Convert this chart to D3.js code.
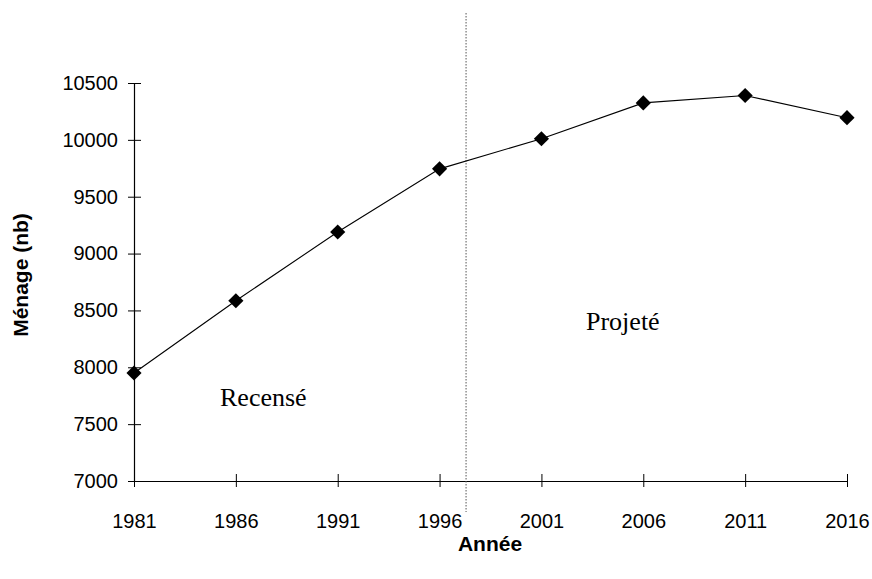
<!DOCTYPE html>
<html>
<head>
<meta charset="utf-8">
<script src="https://cdn.jsdelivr.net/npm/d3@7"></script>
<style>
  body { margin: 0; background: #fff; }
</style>
</head>
<body>
<script>
const width = 872;
const height = 579;

const years = [1981, 1986, 1991, 1996, 2001, 2006, 2011, 2016];
const menages = [7950, 8585, 9190, 9745, 10010, 10325, 10390, 10195];
const yTicks = [7000, 7500, 8000, 8500, 9000, 9500, 10000, 10500];
const splitYear = 1997.3;

const sans = "'Liberation Sans', Arial, sans-serif";
const serif = "'Liberation Serif', 'Times New Roman', serif";

const margin = { left: 134, right: 872 - 847, top: 83, bottom: 579 - 481 };

const svg = d3.select("body")
  .append("svg")
  .attr("width", width)
  .attr("height", height);

const x = d3.scaleLinear()
  .domain([1981, 2016])
  .range([margin.left, width - margin.right]);

const y = d3.scaleLinear()
  .domain([7000, 10500])
  .range([height - margin.bottom, margin.top]);

// axes, ticks crossing the line
const xAxis = svg.append("g")
  .attr("transform", `translate(0,${y(7000)})`)
  .call(d3.axisBottom(x).tickValues(years).tickFormat(d3.format("d")).tickSizeOuter(0));
xAxis.selectAll(".tick line").attr("y1", -7).attr("y2", 6);
xAxis.selectAll(".tick text").attr("y", 47).attr("dy", null);

const yAxis = svg.append("g")
  .attr("transform", `translate(${x(1981)},0)`)
  .call(d3.axisLeft(y).tickValues(yTicks).tickFormat(d3.format("d")).tickSizeOuter(0));
yAxis.selectAll(".tick line").attr("x1", -6).attr("x2", 7);
yAxis.selectAll(".tick text").attr("x", -16);

svg.selectAll("g").attr("font-family", sans).attr("font-size", 20);
svg.selectAll(".domain").attr("stroke", "#000").attr("stroke-width", 1.2);
svg.selectAll(".tick line").attr("stroke", "#000");
svg.selectAll(".tick text").attr("fill", "#000");

// split line between census and projection
svg.append("line")
  .attr("x1", x(splitYear))
  .attr("x2", x(splitYear))
  .attr("y1", 13)
  .attr("y2", 512)
  .attr("stroke", "#555")
  .attr("stroke-width", 1)
  .attr("stroke-dasharray", "1.5,1.5");

const line = d3.line()
  .x((d, i) => x(years[i]))
  .y(d => y(d));

svg.append("path")
  .datum(menages)
  .attr("fill", "none")
  .attr("stroke", "#000")
  .attr("stroke-width", 1.1)
  .attr("d", line);

svg.append("g")
  .selectAll("path")
  .data(menages)
  .enter()
  .append("path")
  .attr("d", d3.symbol(d3.symbolSquare, 115))
  .attr("transform", (d, i) => `translate(${x(years[i])},${y(d)}) rotate(45)`)
  .attr("fill", "#000");

// annotations
svg.append("text")
  .attr("x", 220)
  .attr("y", 406)
  .attr("font-family", serif)
  .attr("font-size", 26)
  .text("Recensé");

svg.append("text")
  .attr("x", 586)
  .attr("y", 330)
  .attr("font-family", serif)
  .attr("font-size", 26)
  .text("Projeté");

// axis titles
svg.append("text")
  .attr("x", 490)
  .attr("y", 551)
  .attr("text-anchor", "middle")
  .attr("font-family", sans)
  .attr("font-size", 21)
  .attr("font-weight", "bold")
  .text("Année");

svg.append("text")
  .attr("transform", "translate(28,275) rotate(-90)")
  .attr("text-anchor", "middle")
  .attr("font-family", sans)
  .attr("font-size", 21)
  .attr("font-weight", "bold")
  .text("Ménage (nb)");
</script>
</body>
</html>
